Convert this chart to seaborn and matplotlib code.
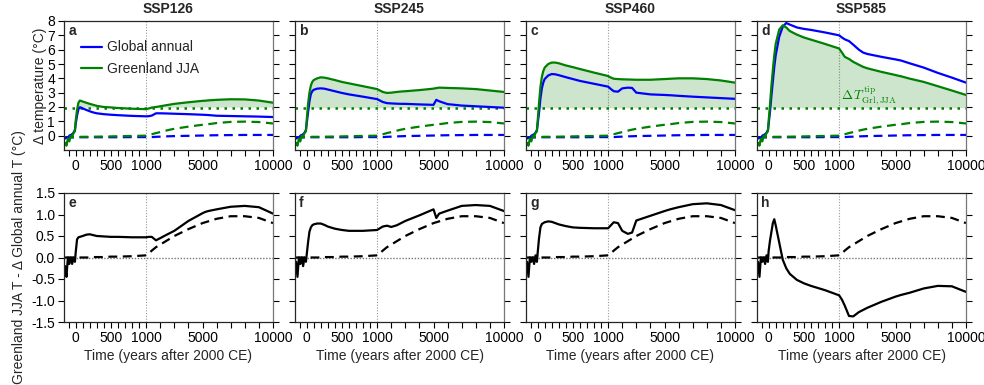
import numpy as np
import pandas as pd
import matplotlib
matplotlib.use("Agg")
import matplotlib.pyplot as plt
import matplotlib.ticker as mticker
import seaborn as sns

# ---------------- data ----------------
T = [-150, -130, -110, -90, -70, -50, -30, -10, 0, 20, 40, 60, 80, 100, 150, 200, 250, 300,
     400, 500, 600, 800, 1000, 1200, 1400, 1700, 2000, 2400, 2700, 3000, 4000, 5000, 5200,
     5400, 6000, 7000, 8000, 9000, 10000]

scenarios = ["SSP126", "SSP245", "SSP460", "SSP585"]
letters_top = ["a", "b", "c", "d"]
letters_bot = ["e", "f", "g", "h"]

glob_126 = [-0.2, -0.1, -0.2, 0.0, 0.05, 0.1, 0.2, 0.4, 0.8, 1.4, 1.85, 1.98, 1.95, 1.9, 1.8, 1.7,
            1.62, 1.56, 1.5, 1.46, 1.43, 1.38, 1.35, 1.36, 1.4, 1.56, 1.56, 1.55, 1.54, 1.53, 1.5,
            1.46, 1.45, 1.44, 1.39, 1.37, 1.35, 1.33, 1.3]
grl_126 = [-0.5, -0.7, -0.2, -0.4, 0.0, -0.1, 0.2, 0.3, 1.0, 1.8, 2.3, 2.45, 2.42, 2.38, 2.3, 2.22,
           2.15, 2.08, 2.0, 1.97, 1.93, 1.88, 1.85, 1.9, 1.96, 2.0, 2.05, 2.12, 2.17, 2.22, 2.33,
           2.43, 2.44, 2.46, 2.5, 2.54, 2.53, 2.45, 2.3]
glob_245 = [-0.2, -0.1, -0.2, 0.0, 0.05, 0.1, 0.2, 0.4, 0.8, 1.6, 2.4, 2.9, 3.1, 3.2, 3.28, 3.3,
            3.28, 3.22, 3.1, 2.98, 2.88, 2.72, 2.55, 2.45, 2.35, 2.27, 2.25, 2.23, 2.22, 2.22, 2.18,
            2.15, 2.5, 2.4, 2.2, 2.1, 2.05, 2.0, 1.95]
grl_245 = [-0.5, -0.7, -0.2, -0.4, 0.0, -0.1, 0.2, 0.3, 1.0, 2.2, 3.0, 3.5, 3.75, 3.88, 4.0, 4.07,
           4.05, 4.0, 3.88, 3.75, 3.65, 3.45, 3.25, 3.15, 3.05, 2.98, 3.0, 3.05, 3.08, 3.1, 3.18,
           3.28, 3.32, 3.35, 3.33, 3.3, 3.25, 3.15, 3.05]
glob_460 = [-0.2, -0.1, -0.2, 0.0, 0.05, 0.1, 0.2, 0.4, 0.8, 1.6, 2.6, 3.3, 3.7, 3.95, 4.2, 4.3,
            4.28, 4.22, 4.08, 3.95, 3.82, 3.62, 3.42, 3.25, 3.1, 3.07, 3.3, 3.35, 3.33, 3.0, 2.88,
            2.84, 2.83, 2.82, 2.78, 2.72, 2.67, 2.62, 2.57]
grl_460 = [-0.5, -0.7, -0.2, -0.4, 0.0, -0.1, 0.2, 0.3, 1.0, 2.3, 3.4, 4.1, 4.5, 4.75, 5.0, 5.1,
           5.1, 5.05, 4.9, 4.78, 4.65, 4.4, 4.16, 4.05, 3.97, 3.95, 3.93, 3.92, 3.91, 3.9, 3.9,
           3.95, 3.96, 3.97, 4.0, 4.0, 3.95, 3.85, 3.7]
glob_585 = [-0.2, -0.1, -0.2, 0.0, 0.05, 0.1, 0.2, 0.4, 0.8, 1.7, 2.8, 3.8, 4.8, 5.6, 6.9, 7.6,
            7.86, 7.75, 7.55, 7.45, 7.38, 7.2, 7.0, 6.85, 6.72, 6.6, 6.35, 6.0, 5.8, 5.7, 5.5,
            5.32, 5.28, 5.24, 5.05, 4.75, 4.38, 4.05, 3.7]
grl_585 = [-0.5, -0.7, -0.2, -0.4, 0.0, -0.1, 0.2, 0.3, 1.0, 2.2, 3.5, 4.6, 5.6, 6.4, 7.4, 7.7,
           7.55, 7.3, 7.05, 6.85, 6.7, 6.4, 6.08, 5.8, 5.5, 5.35, 5.15, 4.95, 4.8, 4.7, 4.45,
           4.23, 4.18, 4.14, 3.98, 3.75, 3.45, 3.15, 2.84]

glob_ref = [-0.12, -0.12, -0.12, -0.12, -0.12, -0.12, -0.12, -0.11, -0.11, -0.11, -0.11, -0.11,
            -0.11, -0.11, -0.11, -0.11, -0.11, -0.11, -0.11, -0.11, -0.11, -0.1, -0.1, -0.1, -0.1,
            -0.08, -0.07, -0.05, -0.04, -0.03, -0.01, 0.01, 0.01, 0.02, 0.03, 0.04, 0.05, 0.05, 0.05]
grl_ref = [-0.1, -0.1, -0.1, -0.1, -0.1, -0.1, -0.09, -0.09, -0.09, -0.09, -0.09, -0.09, -0.08,
           -0.08, -0.08, -0.08, -0.07, -0.07, -0.06, -0.05, -0.04, -0.02, 0.0, 0.05, 0.1, 0.18,
           0.25, 0.35, 0.42, 0.48, 0.63, 0.76, 0.78, 0.8, 0.88, 0.96, 0.98, 0.95, 0.85]

diff_126 = [-0.2, -0.45, 0.0, -0.15, 0.0, -0.15, 0.0, -0.1, 0.1, 0.42, 0.47, 0.48, 0.49, 0.5, 0.53,
            0.54, 0.52, 0.5, 0.49, 0.48, 0.48, 0.47, 0.47, 0.48, 0.48, 0.4, 0.45, 0.52, 0.57, 0.62,
            0.85, 1.03, 1.06, 1.08, 1.12, 1.18, 1.2, 1.17, 1.02]
diff_245 = [-0.1, -0.45, 0.0, -0.15, 0.0, -0.2, 0.0, -0.1, 0.05, 0.35, 0.6, 0.7, 0.75, 0.77, 0.79,
            0.79, 0.76, 0.72, 0.67, 0.64, 0.62, 0.62, 0.64, 0.68, 0.72, 0.74, 0.71, 0.75, 0.8, 0.85,
            0.98, 1.12, 0.92, 1.02, 1.09, 1.2, 1.22, 1.2, 1.08]
diff_460 = [-0.1, -0.45, 0.0, -0.1, 0.0, -0.15, 0.05, -0.1, 0.1, 0.45, 0.7, 0.78, 0.8, 0.82, 0.84,
            0.83, 0.8, 0.77, 0.73, 0.7, 0.69, 0.68, 0.68, 0.75, 0.82, 0.8, 0.62, 0.55, 0.58, 0.86,
            0.97, 1.08, 1.1, 1.12, 1.17, 1.24, 1.26, 1.22, 1.1]
diff_585 = [-0.1, -0.45, 0.0, -0.1, 0.0, -0.15, 0.05, -0.1, 0.15, 0.4, 0.6, 0.8, 0.89, 0.75, 0.35,
            -0.05, -0.25, -0.38, -0.52, -0.6, -0.66, -0.76, -0.88, -0.98, -1.12, -1.36, -1.37,
            -1.27, -1.22, -1.17, -1.03, -0.91, -0.89, -0.87, -0.82, -0.72, -0.66, -0.67, -0.8]
diff_ref = [0.0, 0.0, 0.0, 0.0, 0.0, 0.0, 0.0, 0.0, 0.0, 0.0, 0.0, 0.0, 0.0, 0.0, 0.0, 0.0, 0.01,
            0.01, 0.01, 0.02, 0.02, 0.03, 0.05, 0.1, 0.16, 0.24, 0.3, 0.38, 0.44, 0.5, 0.66, 0.8,
            0.82, 0.84, 0.9, 0.96, 0.96, 0.92, 0.8]

threshold = 1.95

glob_list = [glob_126, glob_245, glob_460, glob_585]
grl_list = [grl_126, grl_245, grl_460, grl_585]
diff_list = [diff_126, diff_245, diff_460, diff_585]

xticks = [0, 500, 1000, 5000, 10000]
xminor = [-100, 100, 200, 300, 400, 600, 700, 800, 900, 2000, 3000, 4000, 6000, 7000, 8000, 9000]

# ---------------- style ----------------
sns.set_theme(style="ticks")
plt.rcParams["font.family"] = ["Liberation Sans", "DejaVu Sans"]
plt.rcParams["axes.linewidth"] = 0.9

BLUE = "#0000ff"
GREEN = "#008000"
K = 0.2


def fwd(x):
    x = np.asarray(x, dtype=float)
    return np.where(x <= 1000, x, 1000 + (x - 1000) * K)


def inv(y):
    y = np.asarray(y, dtype=float)
    return np.where(y <= 1000, y, 1000 + (y - 1000) / K)


fig = plt.figure(figsize=(9.84, 3.85), dpi=100)
W, H = 984.0, 385.0
lefts = [64, 295, 526, 757]
aw = 209
top_rect_y, bot_rect_y, ah = 21, 193, 129

dash = (0, (4, 2.5))
dot = (0, (1, 2.2))


def setup_x(ax):
    ax.set_xscale("function", functions=(fwd, inv))
    ax.set_xlim(-165, 10000)
    ax.xaxis.set_major_locator(mticker.FixedLocator(xticks))
    ax.xaxis.set_minor_locator(mticker.FixedLocator(xminor))
    ax.xaxis.set_major_formatter(mticker.FixedFormatter([str(v) for v in xticks]))
    ax.tick_params(axis="both", which="both", direction="out", length=4, width=0.8,
                   labelsize=10, pad=2.5, right=True, top=False, colors="black")
    ax.spines["right"].set_color("#777777")
    ax.axvline(1000, color="#999999", lw=0.8, ls=(0, (1, 1.5)), zorder=0)


Tarr = np.array(T, dtype=float)
for i in range(4):
    # top row
    ax = fig.add_axes([lefts[i] / W, 1 - (top_rect_y + ah) / H, aw / W, ah / H])
    g = np.array(grl_list[i])
    ax.fill_between(Tarr, threshold, g, where=g >= threshold, interpolate=True,
                    color=GREEN, alpha=0.2, lw=0)
    ax.axhline(threshold, color=GREEN, lw=1.8, ls=dot)
    sns.lineplot(x=T, y=glob_ref, ax=ax, color=BLUE, lw=1.6, linestyle=dash)
    sns.lineplot(x=T, y=grl_ref, ax=ax, color=GREEN, lw=1.6, linestyle=dash)
    sns.lineplot(x=T, y=glob_list[i], ax=ax, color=BLUE, lw=1.6, label="Global annual")
    sns.lineplot(x=T, y=grl_list[i], ax=ax, color=GREEN, lw=1.6, label="Greenland JJA")
    setup_x(ax)
    ax.set_ylim(-1, 8)
    ax.set_yticks(range(0, 9))
    ax.set_xlabel("")
    ax.set_ylabel("")
    ax.set_title(scenarios[i], fontsize=10, fontweight="bold", pad=6)
    ax.text(0.02, 0.975, letters_top[i], transform=ax.transAxes, fontsize=10,
            fontweight="bold", va="top", ha="left")
    if i == 0:
        ax.set_ylabel("Δ temperature (°C)", fontsize=10, labelpad=0)
        ax.legend(loc="upper left", bbox_to_anchor=(0.035, 0.925), frameon=False, fontsize=10,
                  handlelength=1.5, handletextpad=0.35, labelspacing=0.55, borderaxespad=0.3)
    else:
        ax.set_yticklabels([])
        leg = ax.get_legend()
        if leg is not None:
            leg.remove()
    if i == 3:
        ax.text(1100, 1.98, r"$\Delta\,T^{\rm tip}_{\rm Grl,JJA}$", color=GREEN, fontsize=9.5,
                math_fontfamily="cm", ha="left", va="bottom")

    # bottom row
    axb = fig.add_axes([lefts[i] / W, 1 - (bot_rect_y + ah) / H, aw / W, ah / H])
    axb.axhline(0, color="#777777", lw=1.0, ls=(0, (1, 1.2)), zorder=0)
    sns.lineplot(x=T, y=diff_ref, ax=axb, color="black", lw=1.6, linestyle=dash)
    sns.lineplot(x=T, y=diff_list[i], ax=axb, color="black", lw=1.6)
    setup_x(axb)
    axb.set_ylim(-1.5, 1.5)
    axb.set_yticks(np.arange(-1.5, 1.51, 0.5))
    axb.yaxis.set_major_formatter(mticker.FormatStrFormatter("%.1f"))
    axb.set_xlabel("Time (years after 2000 CE)", fontsize=10, labelpad=3)
    axb.set_ylabel("")
    axb.text(0.02, 0.975, letters_bot[i], transform=axb.transAxes, fontsize=10,
             fontweight="bold", va="top", ha="left")
    if i == 0:
        axb.set_ylabel("Greenland JJA T - Δ Global annual T (°C)", fontsize=10, labelpad=4)
    else:
        axb.set_yticklabels([])

fig.savefig("out.png", dpi=100)
